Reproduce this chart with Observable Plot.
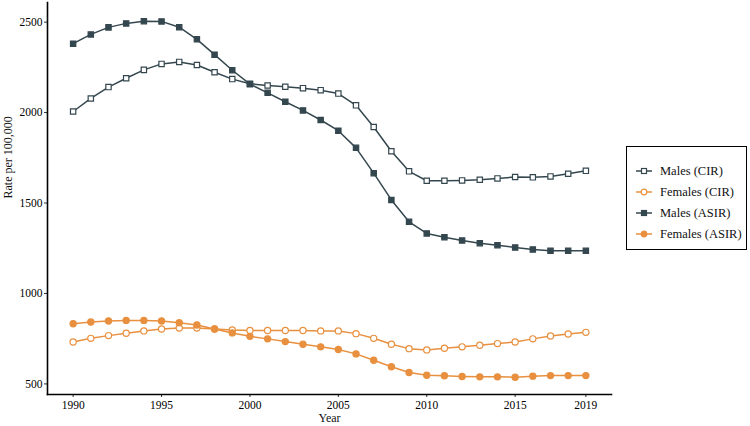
<!DOCTYPE html>
<html>
<head>
<meta charset="utf-8">
<script src="https://cdn.jsdelivr.net/npm/d3@7"></script>
<script src="https://cdn.jsdelivr.net/npm/@observablehq/plot@0.6"></script>
<style>
  html, body { margin: 0; padding: 0; background: #fff; }
  #wrap { position: relative; width: 750px; height: 426px; font-family: "Liberation Serif", "DejaVu Serif", serif; }
  #legend { position: absolute; left: 626px; top: 146px; width: 119px; height: 102px; border: 1.5px solid #000; background: #fff; }
  .item { position: absolute; left: 0; height: 20px; display: flex; align-items: center; font-size: 12.5px; color: #111; }
  .item svg { margin-left: 9px; margin-right: 8px; }
</style>
</head>
<body>
<div id="wrap"><div id="chart"></div><div id="legend"></div></div>
<script>
const years = d3.range(1990, 2020);
const seriesNames = ["Males (CIR)", "Females (CIR)", "Males (ASIR)", "Females (ASIR)"];
const malesCIR = [2006, 2078, 2141, 2190, 2236, 2269, 2280, 2263, 2223, 2185, 2159, 2150, 2143, 2135, 2124, 2105, 2040, 1920, 1786, 1675, 1623, 1623, 1625, 1629, 1636, 1644, 1642, 1647, 1662, 1678];
const femalesCIR = [732, 752, 767, 780, 793, 804, 809, 809, 804, 798, 795, 795, 795, 795, 793, 793, 778, 752, 719, 695, 688, 697, 705, 714, 723, 732, 749, 765, 776, 785];
const malesASIR = [2381, 2432, 2471, 2493, 2505, 2504, 2472, 2405, 2320, 2234, 2157, 2109, 2060, 2012, 1959, 1900, 1805, 1665, 1517, 1396, 1332, 1311, 1293, 1278, 1267, 1254, 1243, 1236, 1236, 1236];
const femalesASIR = [833, 842, 848, 851, 851, 848, 838, 826, 804, 782, 763, 749, 734, 719, 705, 690, 666, 631, 595, 563, 548, 545, 541, 539, 539, 537, 543, 546, 546, 546];
const xTicks = [1990, 1995, 2000, 2005, 2010, 2015, 2019];
const yTicks = [500, 1000, 1500, 2000, 2500];

const dark = "#34474f", orange = "#e8903f";
const styles = {
  "Males (CIR)": {color: dark, symbol: "square", fill: "#fff"},
  "Females (CIR)": {color: orange, symbol: "circle", fill: "#fff"},
  "Males (ASIR)": {color: dark, symbol: "square", fill: dark},
  "Females (ASIR)": {color: orange, symbol: "circle", fill: orange}
};
const valuesBySeries = [malesCIR, femalesCIR, malesASIR, femalesASIR];
const data = [];
seriesNames.forEach((s, i) => years.forEach((y, j) => data.push({series: s, year: y, value: valuesBySeries[i][j]})));

const marks = [];
seriesNames.forEach(s => {
  const d = data.filter(r => r.series === s);
  const st = styles[s];
  marks.push(Plot.line(d, {x: "year", y: "value", stroke: st.color, strokeWidth: 1.5}));
});
seriesNames.forEach(s => {
  const d = data.filter(r => r.series === s);
  const st = styles[s];
  marks.push(Plot.dot(d, {x: "year", y: "value", symbol: st.symbol, r: st.symbol === "square" ? 3.0 : 3.1, fill: st.fill, stroke: st.color, strokeWidth: 1.2}));
});

const chart = Plot.plot({
  width: 750, height: 426,
  marginLeft: 47, marginRight: 139, marginTop: 2, marginBottom: 32,
  style: {fontFamily: "'Liberation Serif', serif", background: "#fff", color: "#000"},
  x: {domain: [1988.55, 2020.45]},
  y: {domain: [441.5, 2608.5]},
  marks: [
    Plot.axisX({ticks: xTicks, tickFormat: d => String(d), tickSize: 3, tickPadding: 3, fontSize: 11.5, label: null, stroke: "#333"}),
    Plot.axisY({ticks: yTicks, tickFormat: d => String(d), tickSize: 3, tickPadding: 2, fontSize: 11.5, label: null, stroke: "#333"}),
    Plot.frame({anchor: "left", stroke: "#000", strokeWidth: 1.6}),
    Plot.frame({anchor: "bottom", stroke: "#000", strokeWidth: 1.6}),
    Plot.text(["Year"], {frameAnchor: "bottom", dy: 27, fontSize: 12, fill: "#111"}),
    Plot.text(["Rate per 100,000"], {frameAnchor: "left", rotate: -90, dx: -39, fontSize: 12, fill: "#111"}),
    ...marks
  ]
});
document.getElementById("chart").appendChild(chart);

const legend = document.getElementById("legend");
seriesNames.forEach((s, i) => {
  const st = styles[s];
  const item = document.createElement("div");
  item.className = "item";
  item.style.top = (14 + i * 21) + "px";
  const marker = st.symbol === "square"
    ? `<rect x="5.5" y="3.5" width="5" height="5" fill="${st.fill}" stroke="${st.color}" stroke-width="1.2"/>`
    : `<circle cx="8" cy="6" r="2.8" fill="${st.fill}" stroke="${st.color}" stroke-width="1.2"/>`;
  item.innerHTML = `<svg width="16" height="12"><line x1="0" x2="16" y1="6" y2="6" stroke="${st.color}" stroke-width="1.5"/>${marker}</svg><span>${s}</span>`;
  legend.appendChild(item);
});
</script>
</body>
</html>
